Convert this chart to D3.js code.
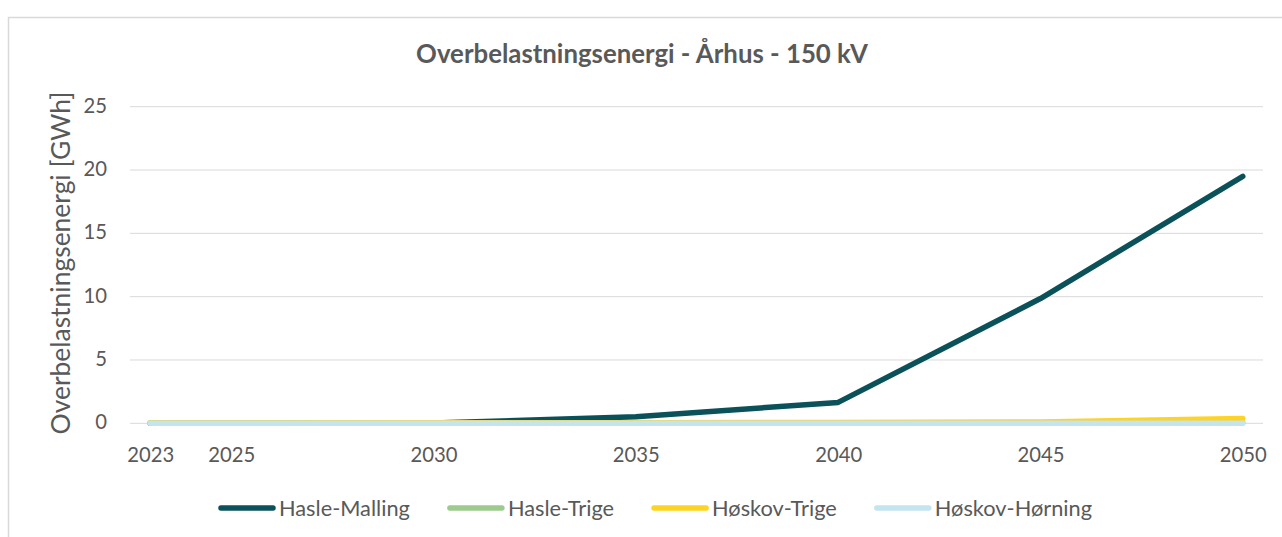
<!DOCTYPE html>
<html><head><meta charset="utf-8">
<script src="https://cdn.jsdelivr.net/npm/d3@7"></script>
<style>
html,body{margin:0;padding:0;background:#fff;}
svg{display:block;}
text{font-family:Lato,"Open Sans",sans-serif;fill:#595959;}
</style></head>
<body>
<svg id="chart" width="1282" height="537"></svg>
<script>
const years = [2023, 2025, 2030, 2035, 2040, 2045, 2050];
const seriesNames = ["Hasle-Malling", "Hasle-Trige", "Høskov-Trige", "Høskov-Hørning"];
const haslemalling = [0, 0, 0.02, 0.52, 1.65, 9.85, 19.5];
const hasletrige = [0.05, 0.05, 0.05, 0.05, 0.05, 0.05, 0.05];
const hoskovtrige = [0.02, 0.03, 0.04, 0.05, 0.06, 0.1, 0.38];
const hoskovhorning = [0, 0, 0, 0, 0, 0, 0];
const yTicks = [0, 5, 10, 15, 20, 25];
const colors = ["#0B515A", "#9DCB8E", "#FFD322", "#C4E4EF"];
const title = "Overbelastningsenergi - Århus - 150 kV";
const yTitle = "Overbelastningsenergi [GWh]";

const seriesValues = [haslemalling, hasletrige, hoskovtrige, hoskovhorning];
const svg = d3.select("#chart");

// frame
svg.append("rect").attr("x", 8.5).attr("y", 17.5).attr("width", 1300).attr("height", 600)
  .attr("fill", "#fff").attr("stroke", "#d9d9d9").attr("stroke-width", 1.5);

const x = d3.scaleLinear().domain([2022.5, 2050.5]).range([130, 1263]);
const y = d3.scaleLinear().domain([0, 25]).range([423.3, 106.7]);

// font fit helper
function fitSize(str, weight, targetW) {
  const t = svg.append("text").attr("font-size", 20).attr("font-weight", weight).text(str);
  const w = t.node().getComputedTextLength();
  t.remove();
  return 20 * targetW / w;
}
const fs = fitSize("Hasle-Malling", 400, 131);
const fsTick = fitSize("2023", 400, 47);
const fsTitle = fitSize(title, 700, 452);
const fsYTitle = fitSize(yTitle, 400, 343);

// gridlines
const grid = svg.append("g");
grid.selectAll("line").data(yTicks).join("line")
  .attr("x1", x.range()[0]).attr("x2", x.range()[1])
  .attr("y1", d => y(d)).attr("y2", d => y(d))
  .attr("stroke", "#d9d9d9").attr("stroke-width", 1);

// y axis
const yAxis = d3.axisLeft(y).tickValues(yTicks).tickSize(0).tickPadding(0);
const yg = svg.append("g").attr("transform", "translate(107,0)").call(yAxis);
yg.select(".domain").remove();
yg.selectAll("text").attr("font-size", fsTick).attr("fill", "#595959")
  .attr("font-family", "Lato").attr("dy", "0.32em").attr("y", -1);

// x axis
const xAxis = d3.axisBottom(x).tickValues(years).tickFormat(d3.format("d")).tickSize(0).tickPadding(0);
const xg = svg.append("g").attr("transform", "translate(0,462)").call(xAxis);
xg.select(".domain").remove();
xg.selectAll("text").attr("font-size", fsTick).attr("fill", "#595959")
  .attr("font-family", "Lato").attr("dy", 0);

// lines
const line = d3.line().x((d, i) => x(years[i])).y(d => y(d));
svg.append("g").selectAll("path").data(seriesValues).join("path")
  .attr("d", d => line(d))
  .attr("fill", "none")
  .attr("stroke", (d, i) => colors[i])
  .attr("stroke-width", 5.5)
  .attr("stroke-linejoin", "round")
  .attr("stroke-linecap", "round");

// title
svg.append("text").attr("x", 642).attr("y", 63).attr("text-anchor", "middle")
  .attr("font-size", fsTitle).attr("font-weight", 700).text(title);

// y title
svg.append("text").attr("transform", "translate(60,263) rotate(-90)")
  .attr("text-anchor", "middle").attr("dominant-baseline", "central")
  .attr("font-size", fsYTitle).text(yTitle);

// legend
const lg = svg.append("g");
const items = lg.selectAll("g").data(seriesNames).join("g");
items.append("line").attr("x1", 0).attr("x2", 52).attr("y1", 0).attr("y2", 0)
  .attr("stroke", (d, i) => colors[i]).attr("stroke-width", 5.5).attr("stroke-linecap", "round");
items.append("text").attr("x", 58).attr("y", 0).attr("dominant-baseline", "central")
  .attr("font-size", fs).text(d => d);
let cx = 0;
items.each(function () {
  const g = d3.select(this);
  const w = g.select("text").node().getComputedTextLength();
  g.attr("transform", `translate(${cx},0)`);
  cx += 58 + w + 40;
});
const total = cx - 40;
lg.attr("transform", `translate(${654.5 - total / 2 + 2},508)`);
</script>
</body></html>
